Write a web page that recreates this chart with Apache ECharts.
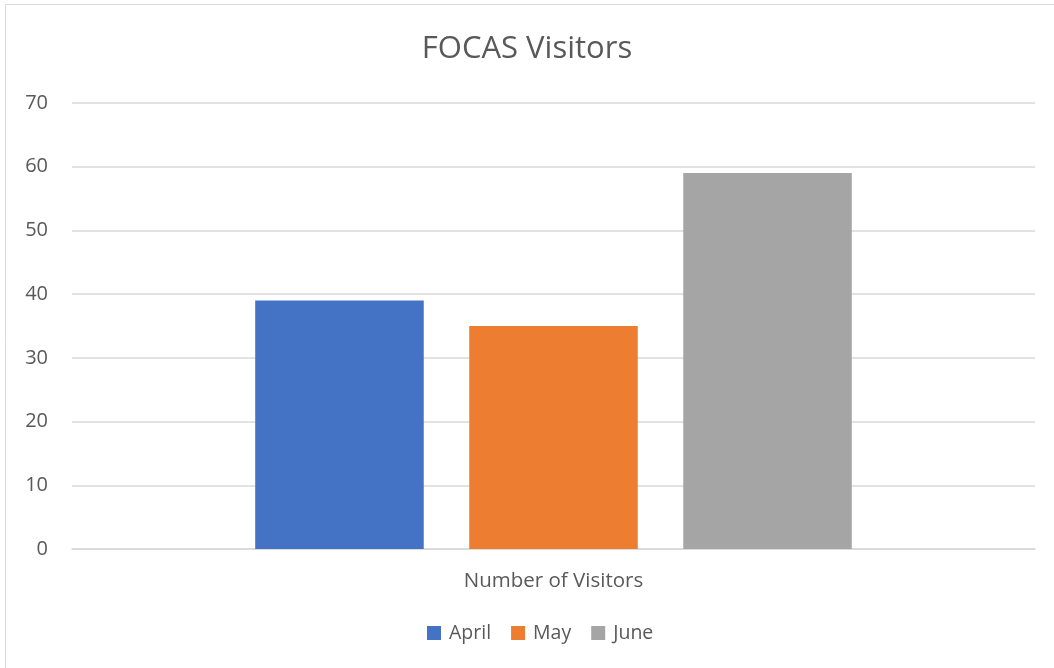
<!DOCTYPE html>
<html>
<head>
<meta charset="utf-8">
<script src="https://cdn.jsdelivr.net/npm/echarts@6/dist/echarts.min.js"></script>
<style>
  html, body { margin: 0; padding: 0; background: #fff; }
  #chart { width: 1054px; height: 668px; }
</style>
</head>
<body>
<div id="chart"></div>
<script>
  const categories = ["Number of Visitors"];
  const seriesNames = ["April", "May", "June"];
  const april = [39];
  const may = [35];
  const june = [59];
  const colors = ["#4472C4", "#ED7D31", "#A5A5A5"];

  const font = "'Open Sans', 'Liberation Sans', sans-serif";
  const textColor = "#595959";

  const chart = echarts.init(document.getElementById("chart"));

  const option = {
    animation: false,
    textStyle: { fontFamily: font },
    graphic: [{
      type: "rect",
      shape: { x: 5.5, y: 4.5, width: 1100, height: 700 },
      style: { fill: "none", stroke: "#d9d9d9", lineWidth: 1 },
      silent: true,
    }],
    title: {
      text: "FOCAS Visitors",
      left: "center",
      top: 29,
      textStyle: { fontFamily: font, fontSize: 31, fontWeight: "normal", color: textColor },
    },
    grid: {
      left: 72,
      right: 19,
      top: 103,
      bottom: 119,
    },
    legend: {
      left: 422,
      bottom: 20,
      itemWidth: 14,
      itemHeight: 14,
      itemGap: 20,
      icon: "rect",
      textStyle: { fontFamily: font, fontSize: 19.5, color: textColor, padding: [0, 0, 0, 3] },
      data: seriesNames,
    },
    xAxis: {
      type: "category",
      data: categories,
      axisLine: { lineStyle: { color: "#d9d9d9", width: 1.5 } },
      axisTick: { show: false },
      axisLabel: { fontFamily: font, fontSize: 20.5, color: textColor, margin: 22 },
    },
    yAxis: {
      type: "value",
      min: 0,
      max: 70,
      interval: 10,
      axisLine: { show: false },
      axisTick: { show: false },
      splitLine: { lineStyle: { color: "#d9d9d9", width: 1.5 } },
      axisLabel: { fontFamily: font, fontSize: 20, color: textColor, margin: 24 },
    },
    series: [
      { name: seriesNames[0], type: "bar", data: april, itemStyle: { color: colors[0] }, barWidth: "17.5%", barGap: "27%" },
      { name: seriesNames[1], type: "bar", data: may, itemStyle: { color: colors[1] }, barWidth: "17.5%", barGap: "27%" },
      { name: seriesNames[2], type: "bar", data: june, itemStyle: { color: colors[2] }, barWidth: "17.5%", barGap: "27%" },
    ],
  };

  chart.setOption(option);
</script>
</body>
</html>
